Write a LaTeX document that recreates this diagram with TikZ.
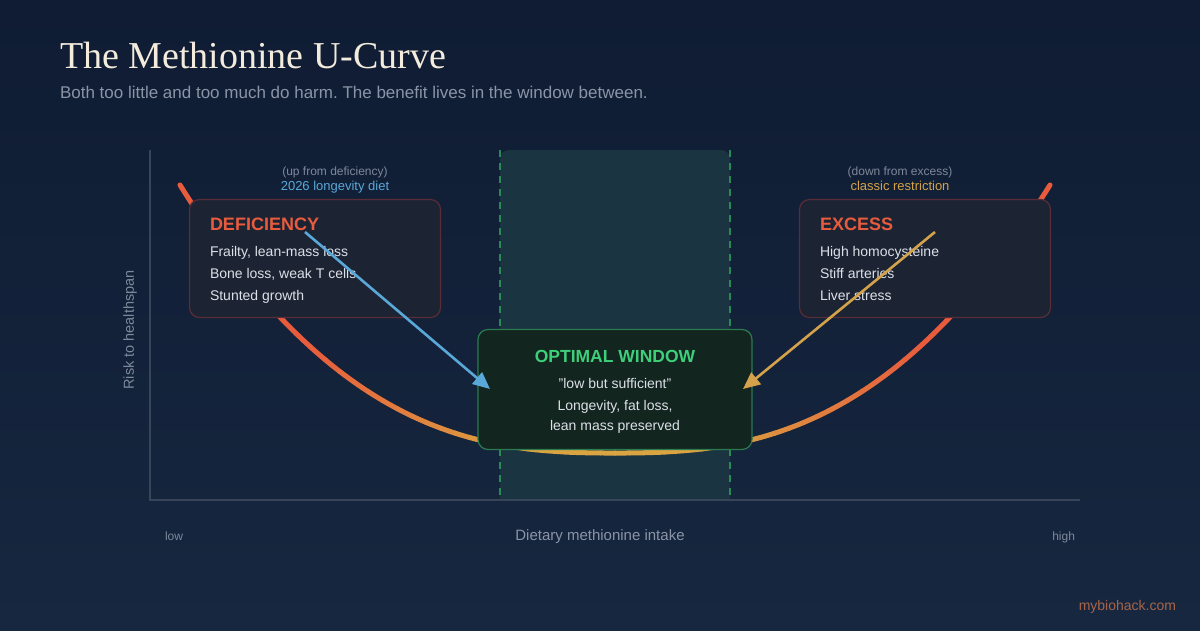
\documentclass[tikz,border=0pt]{standalone}
\usepackage{fontspec}
\setmainfont{Liberation Sans}
\newfontfamily\titlefont{Liberation Serif}
\usetikzlibrary{arrows.meta}
\frenchspacing
\definecolor{bgtop}{HTML}{0F1C33}
\definecolor{bgbot}{HTML}{16273F}
\definecolor{winfill}{HTML}{1A3541}
\definecolor{wingreen}{HTML}{2A8A55}
\definecolor{axisc}{HTML}{384457}
\definecolor{curvered}{HTML}{E85B3D}
\definecolor{curvegold}{HTML}{D9A441}
\definecolor{titlec}{HTML}{F3ECDD}
\definecolor{subc}{HTML}{8A94A6}
\definecolor{mutedc}{HTML}{7D889A}
\definecolor{boxfill}{HTML}{1C2434}
\definecolor{boxline}{HTML}{5A2C35}
\definecolor{itemc}{HTML}{DCE0E7}
\definecolor{optfill}{HTML}{13251F}
\definecolor{optline}{HTML}{2B7A50}
\definecolor{optgreen}{HTML}{3ECF7A}
\definecolor{bluec}{HTML}{5AA8D8}
\definecolor{goldc}{HTML}{D4A24A}
\definecolor{brandc}{HTML}{A8644A}
\tikzset{
  fs/.style={font=\fontsize{#1}{#1}\selectfont},
  txt/.style={inner sep=0pt, outer sep=0pt},
  riskbox/.style={draw=boxline, fill=boxfill, line width=1.2pt, rounded corners=10pt,
    minimum width=251pt, minimum height=118pt, inner sep=0pt},
  optbox/.style={draw=optline, fill=optfill, line width=1.2pt, rounded corners=10pt,
    minimum width=274pt, minimum height=120pt, inner sep=0pt},
  boxhead/.style={txt, anchor=base west, text=curvered, font=\fontsize{18}{18}\selectfont\bfseries},
  item/.style={txt, anchor=base west, text=itemc, fs=14},
  optitem/.style={txt, anchor=base, text=itemc, fs=14},
  pointer/.style={line width=2.6pt, -{Triangle[length=17pt,width=15pt]}},
}
\begin{document}
\begin{tikzpicture}[x=1pt,y=-1pt]
\useasboundingbox (0,0) rectangle (1200,630);
\shade[top color=bgtop, bottom color=bgbot] (0,0) rectangle (1200,630);

% title
\node[txt, anchor=base west, text=titlec, font=\titlefont\fontsize{38}{38}\selectfont] (title) at (60,68) {The Methionine U-Curve};
\node[txt, anchor=base west, text=subc, fs=17] (sub) at (60,98) {Both too little and too much do harm. The benefit lives in the window between.};

% optimal window band
\fill[winfill] (500,500) [rounded corners=9pt] -- (500,150) -- (730,150) [sharp corners] -- (730,500) -- cycle;
\draw[wingreen, line width=1.5pt, dash pattern=on 7pt off 6pt] (500,150) -- (500,500);
\draw[wingreen, line width=1.5pt, dash pattern=on 7pt off 6pt] (730,150) -- (730,500);

% axes
\coordinate (ytop) at (150,150);
\coordinate (orig) at (150,500);
\coordinate (xend) at (1080,500);
\draw[axisc, line width=1.5pt] (ytop) -- (orig) -- (xend);

% U-curve with colour gradient
\foreach \i in {0,...,59} {
  \pgfmathsetmacro\xa{-435+\i*14.5}
  \pgfmathsetmacro\xb{\xa+14.5}
  \pgfmathsetmacro\mid{abs(\xa+7.25)}
  \pgfmathtruncatemacro\t{100*min(max((\mid-100)/210,0),1)}
  \draw[curvered!\t!curvegold, line width=5pt, line cap=round]
    plot[domain=\xa:\xb, samples=5, smooth] ({615+\x}, {453-268*((abs(\x)+0.01)/435)^2.6});
}

% axis labels
\node[txt, rotate=90, text=mutedc, fs=14.5] (ylab) at (130,330) {Risk to healthspan};
\node[txt, anchor=base west, text=mutedc, fs=12] (low) at (165,540) {low};
\node[txt, anchor=base, text=subc, fs=15] (xlab) at (600,540) {Dietary methionine intake};
\node[txt, anchor=base east, text=mutedc, fs=12] (high) at (1075,540) {high};
\node[txt, anchor=base east, text=brandc, fs=14] (brand) at (1176,610) {mybiohack.com};

% deficiency box
\node[riskbox] (def) at (315,258.5) {};
\node[boxhead] (defh) at (210,230) {DEFICIENCY};
\node[item] (d1) at (210,256) {Frailty, lean-mass loss};
\node[item] (d2) at (210,278) {Bone loss, weak T cells};
\node[item] (d3) at (210,300) {Stunted growth};
\node[txt, anchor=base, text=mutedc, fs=12] (defup) at (335,175) {(up from deficiency)};
\node[txt, anchor=base, text=bluec, fs=13] (defdiet) at (335,190) {2026 longevity diet};

% excess box
\node[riskbox] (exc) at (925,258.5) {};
\node[boxhead] (exch) at (820,230) {EXCESS};
\node[item] (e1) at (820,256) {High homocysteine};
\node[item] (e2) at (820,278) {Stiff arteries};
\node[item] (e3) at (820,300) {Liver stress};
\node[txt, anchor=base, text=mutedc, fs=12] (excdown) at (900,175) {(down from excess)};
\node[txt, anchor=base, text=goldc, fs=13] (excres) at (900,190) {classic restriction};

% optimal box
\node[optbox] (opt) at (615,389.5) {};
\node[txt, anchor=base, text=optgreen, font=\fontsize{17.5}{17.5}\selectfont\bfseries] (opth) at (615,362) {OPTIMAL WINDOW};
\node[optitem] (o1) at (615,388) {\symbol{34}low but sufficient\symbol{34}};
\node[optitem] (o2) at (615,410) {Longevity, fat loss,};
\node[optitem] (o3) at (615,430) {lean mass preserved};

% arrows
\coordinate (bstart) at (305,232);
\coordinate (btip) at (490,389);
\coordinate (gstart) at (935,232);
\coordinate (gtip) at (743,389);
\draw[pointer, bluec] (bstart) -- (btip);
\draw[pointer, goldc] (gstart) -- (gtip);
\end{tikzpicture}
\end{document}
